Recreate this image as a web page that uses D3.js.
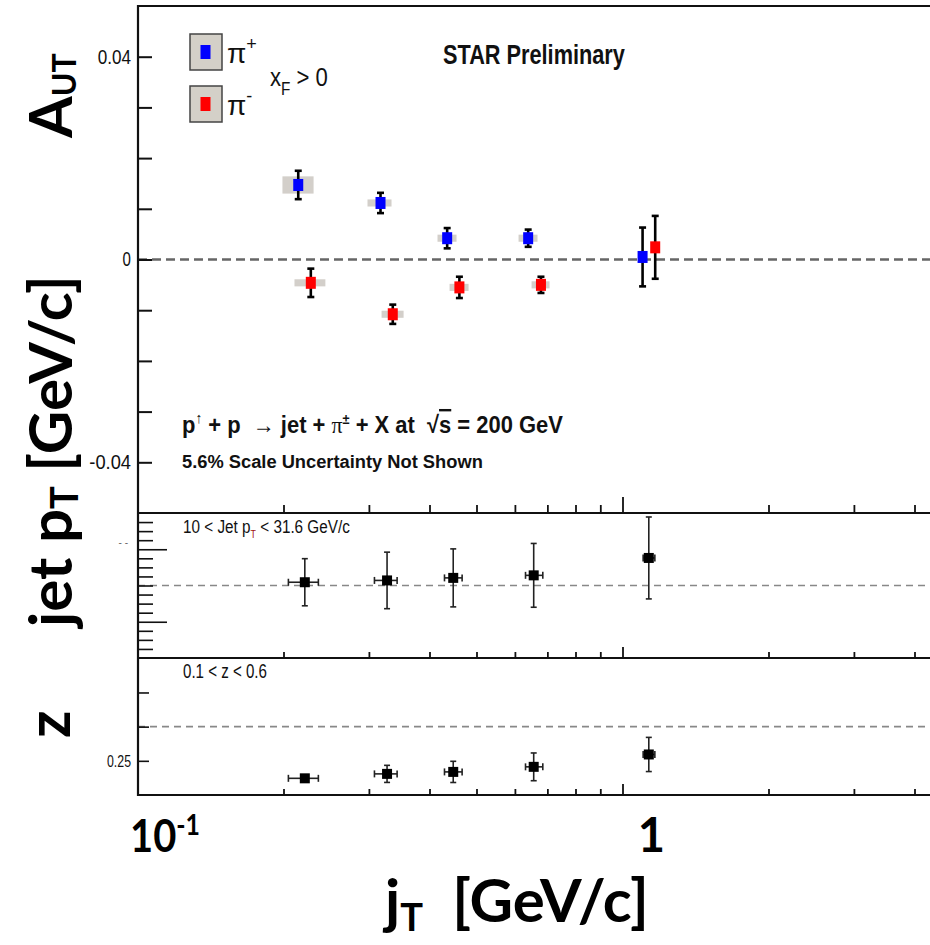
<!DOCTYPE html>
<html><head><meta charset="utf-8">
<script src="https://cdn.jsdelivr.net/npm/d3@7"></script>
<style>body{margin:0;background:#fff;} svg{display:block}</style>
</head><body><svg id="c" width="930" height="945"></svg>
<script>
// ---------------- DATA ----------------
// A_UT for pi+ (blue)
const jtPiPlus   = [0.2145, 0.317, 0.435, 0.639, 1.10];
const autPiPlus  = [0.0147, 0.01115, 0.0042, 0.0042, 0.0005];
const errPiPlus  = [0.0028, 0.0020, 0.0020, 0.0017, 0.0058];
const sysYPiPlus = [0.0017, 0.0007, 0.0007, 0.0007, 0];
const sysXLoPiPlus = [0.199, 0.298, 0.4155, 0.6105, 1.10];
const sysXHiPiPlus = [0.2307, 0.334, 0.4548, 0.668, 1.10];
// A_UT for pi- (red)
const jtPiMinus   = [0.2277, 0.336, 0.461, 0.679, 1.168];
const autPiMinus  = [-0.0046, -0.0108, -0.0055, -0.0050, 0.0024];
const errPiMinus  = [0.0028, 0.0019, 0.0021, 0.0016, 0.0062];
const sysYPiMinus = [0.0007, 0.0007, 0.0007, 0.0007, 0];
const sysXLoPiMinus = [0.2107, 0.3186, 0.44, 0.6494, 1.168];
const sysXHiPiMinus = [0.244, 0.3537, 0.4815, 0.7073, 1.168];
// mean jT bins (black points)
const jtMean = [0.2213, 0.327, 0.4477, 0.656, 1.133];
const jtLo   = [0.2047, 0.308, 0.4295, 0.631, 1.103];
const jtHi   = [0.236, 0.343, 0.467, 0.685, 1.166];
// mean jet pT
const jetPt    = [16.09, 16.14, 16.21, 16.28, 16.76];
const jetPtErr = [0.65, 0.78, 0.80, 0.88, 1.13];
// mean z
const zMean = [0.2244, 0.2309, 0.2338, 0.2412, 0.2593];
const zErr  = [0.003, 0.0125, 0.0155, 0.0203, 0.025];
// ticks
const xTicks = [0.2,0.3,0.4,0.5,0.6,0.7,0.8,0.9,2,3,4];
const autTicks = [-0.04,-0.03,-0.02,-0.01,0,0.01,0.02,0.03,0.04];
const autLabels = [[0.04,"0.04"],[0,"0"],[-0.04,"-0.04"]];
const ptMinorTicks = [14.25,14.5,14.75,15.25,15.5,15.75,16,16.25,16.5,16.75,17.25,17.5,17.75];
const ptMajorTicks = [15,17];
const zTicks = [0.25,0.3,0.35];
const zLabels = [[0.25,"0.25"]];

// ---------------- LAYOUT ----------------
const svg = d3.select('#c');
const NARROW = "'Liberation Sans Narrow','Arial Narrow','Liberation Sans',Arial,sans-serif";
const BIG = "Lato,'Open Sans',sans-serif";
const L = 138, R = 945;
const xDomain = [0.1, 4.5];
const pxPerDecade = 485, x0 = 137.5;
const x = d3.scaleLog().domain(xDomain).range([x0, x0 + pxPerDecade*Math.log10(xDomain[1]/xDomain[0])]);
const yA = d3.scaleLinear().domain([-0.05,0.05]).range([513,6]);
const yP = d3.scaleLinear().domain([14,18]).range([658,513]);
const yZ = d3.scaleLinear().domain([0.2,0.4]).range([795,658.3]);

function hline(y, w, col){ svg.append('line').attr('x1',L-1).attr('x2',R).attr('y1',y).attr('y2',y).attr('stroke',col||'#111').attr('stroke-width',w); }
function vline(xx, y1, y2, w){ svg.append('line').attr('x1',xx).attr('x2',xx).attr('y1',y1).attr('y2',y2).attr('stroke','#111').attr('stroke-width',w); }

// dashed reference lines
function dashed(y, w, col, dash){
  svg.append('line').attr('x1',L).attr('x2',R).attr('y1',y).attr('y2',y)
    .attr('stroke',col).attr('stroke-width',w).attr('stroke-dasharray',dash);
}
dashed(yA(0), 2.6, '#666', '9,5');
dashed(yP(16), 1.6, '#888', '7,5');
dashed(yZ(0.3), 1.6, '#888', '7,5');

// frames
hline(yA.range()[1], 2.2);
hline(513, 2.2);
hline(658, 2.2);
hline(795, 2.2);
vline(L, 5, 796, 2.2);

// x ticks
function xAxis(y, len, majorLen){
  const g = svg.append('g').attr('transform',`translate(0,${y})`);
  g.call(d3.axisTop(x).tickValues(xTicks).tickSize(len).tickFormat(''));
  g.call(gg=>gg.select('.domain').remove());
  const g2 = svg.append('g').attr('transform',`translate(0,${y})`);
  g2.call(d3.axisTop(x).tickValues([1]).tickSize(majorLen).tickFormat(''));
  g2.call(gg=>gg.select('.domain').remove());
  svg.selectAll('.tick line').attr('stroke','#111').attr('stroke-width',1.8);
}
xAxis(513, 8, 16);
xAxis(658, 6, 11);
xAxis(795, 6, 11);

// y ticks
function yTicksAt(scale, vals, len, w){
  const g = svg.append('g').attr('transform',`translate(${L},0)`);
  g.call(d3.axisRight(scale).tickValues(vals).tickSize(len).tickFormat(''));
  g.call(gg=>gg.select('.domain').remove());
  g.selectAll('line').attr('stroke','#111').attr('stroke-width',w||1.8);
}
yTicksAt(yA, autTicks, 14, 2);
yTicksAt(yP, ptMinorTicks, 15, 1.6);
yTicksAt(yP, ptMajorTicks, 29, 1.6);
yTicksAt(yZ, zTicks, 11, 1.6);

// horizontal condensing helper: scale a text so its width equals len (anchor kept at its x)
function fit(t, len, anchorX, anchorEnd){
  const n = t.node();
  const w = n.getBBox().width;
  const k = w > 0 ? len / w : 1;
  t.attr('transform', `translate(${anchorX},0) scale(${k},1) translate(${-anchorX},0)`);
  return t;
}

// y tick labels (condensed)
svg.append('g').selectAll('text').data(autLabels).join('text')
  .attr('x',131).attr('y',d=>yA(d[0])+7).attr('text-anchor','end')
  .attr('font-family',NARROW).attr('font-size',21).attr('fill','#111').text(d=>d[1])
  .each(function(d){ fit(d3.select(this), d[1].length*8.4, 131); });
svg.append('g').selectAll('text').data(zLabels).join('text')
  .attr('x',131).attr('y',d=>yZ(d[0])+6).attr('text-anchor','end')
  .attr('font-family',NARROW).attr('font-size',17).attr('fill','#111').text(d=>d[1])
  .each(function(d){ fit(d3.select(this), 24, 131); });
svg.append('text').attr('x',128).attr('y',546).attr('text-anchor','end')
  .attr('font-family',NARROW).attr('font-size',10).attr('fill','#666').text('- -');

// ---------------- TOP PANEL MARKS ----------------
function sysBoxes(jt, val, lo, hi, sy){
  svg.append('g').selectAll('rect').data(jt.map((d,i)=>i).filter(i=>hi[i]>lo[i])).join('rect')
    .attr('x',i=>x(lo[i])).attr('width',i=>x(hi[i])-x(lo[i]))
    .attr('y',i=>yA(val[i]+sy[i])).attr('height',i=>yA(val[i]-sy[i])-yA(val[i]+sy[i]))
    .attr('fill','#d3cfca');
}
sysBoxes(jtPiPlus, autPiPlus, sysXLoPiPlus, sysXHiPiPlus, sysYPiPlus);
sysBoxes(jtPiMinus, autPiMinus, sysXLoPiMinus, sysXHiPiMinus, sysYPiMinus);

function errBars(jt, val, err, col){
  const g = svg.append('g').attr('stroke','#000').attr('stroke-width',2.6);
  jt.forEach((d,i)=>{
    const cx=x(d), t=yA(val[i]+err[i]), b=yA(val[i]-err[i]);
    g.append('line').attr('x1',cx).attr('x2',cx).attr('y1',t).attr('y2',b);
    g.append('line').attr('x1',cx-3.5).attr('x2',cx+3.5).attr('y1',t).attr('y2',t);
    g.append('line').attr('x1',cx-3.5).attr('x2',cx+3.5).attr('y1',b).attr('y2',b);
  });
  svg.append('g').selectAll('rect').data(jt).join('rect')
    .attr('x',d=>x(d)-5).attr('y',(d,i)=>yA(val[i])-6).attr('width',10).attr('height',12)
    .attr('fill',col);
}
errBars(jtPiPlus, autPiPlus, errPiPlus, '#0000ff');
errBars(jtPiMinus, autPiMinus, errPiMinus, '#ff0000');

// ---------------- LOWER PANELS ----------------
function blackPoints(yS, val, err){
  const g = svg.append('g').attr('stroke','#222').attr('stroke-width',1.6);
  jtMean.forEach((d,i)=>{
    const cx=x(d), cy=yS(val[i]), t=yS(val[i]+err[i]), b=yS(val[i]-err[i]);
    const l=x(jtLo[i]), r=x(jtHi[i]);
    g.append('line').attr('x1',cx).attr('x2',cx).attr('y1',t).attr('y2',b);
    g.append('line').attr('x1',cx-3).attr('x2',cx+3).attr('y1',t).attr('y2',t);
    g.append('line').attr('x1',cx-3).attr('x2',cx+3).attr('y1',b).attr('y2',b);
    g.append('line').attr('x1',l).attr('x2',r).attr('y1',cy).attr('y2',cy);
    g.append('line').attr('x1',l).attr('x2',l).attr('y1',cy-3.5).attr('y2',cy+3.5);
    g.append('line').attr('x1',r).attr('x2',r).attr('y1',cy-3.5).attr('y2',cy+3.5);
  });
  svg.append('g').selectAll('rect').data(jtMean).join('rect')
    .attr('x',d=>x(d)-5).attr('y',(d,i)=>yS(val[i])-5).attr('width',10).attr('height',10)
    .attr('fill','#000');
}
blackPoints(yP, jetPt, jetPtErr);
blackPoints(yZ, zMean, zErr);

// ---------------- TEXTS ----------------
// legend
const legend = [["+","#0000ff",11],["-","#ff0000",11]];
legend.forEach((d,i)=>{
  const top = 34 + i*52;
  svg.append('rect').attr('x',190).attr('y',top).attr('width',32).attr('height',36)
    .attr('fill','#d4d0c8').attr('stroke','#444').attr('stroke-width',1.5);
  svg.append('rect').attr('x',206-d[2]/2).attr('y',top+11).attr('width',d[2]-1).attr('height',14).attr('fill',d[1]);
  const t = svg.append('text').attr('x',227).attr('y',top+29).attr('font-family',"'Liberation Sans',sans-serif").attr('font-size',28).attr('fill','#111');
  t.append('tspan').text('π');
  t.append('tspan').attr('dy',-13).attr('font-size',18).text(d[0]);
});
{
  const t = svg.append('text').attr('x',270).attr('y',86).attr('font-family',NARROW).attr('font-size',26).attr('fill','#111');
  t.append('tspan').text('x');
  t.append('tspan').attr('dy',9).attr('font-size',18).text('F');
  t.append('tspan').attr('dy',-9).text(' > 0');
  fit(t, 58, 270);
}
fit(svg.append('text').attr('x',443).attr('y',64).attr('font-family',NARROW).attr('font-weight','bold')
  .attr('font-size',27).attr('fill','#111').text('STAR Preliminary'), 182, 443);
{
  const t = svg.append('text').attr('x',182).attr('y',433).attr('font-family',NARROW).attr('font-weight','bold')
    .attr('font-size',24).attr('fill','#111');
  t.append('tspan').text('p');
  t.append('tspan').attr('dy',-10).attr('font-size',15).attr('font-weight','normal').text('↑');
  t.append('tspan').attr('dy',10).text(' + p\u00a0 → jet + ');
  t.append('tspan').attr('font-family','serif').attr('font-weight','normal').text('π');
  t.append('tspan').attr('dy',-9).attr('font-size',14).text('±');
  t.append('tspan').attr('dy',9).text(' + X at\u00a0 √');
  t.append('tspan').attr('text-decoration','overline').text('s');
  t.append('tspan').text(' = 200 GeV');
  fit(t, 381, 182);
}
fit(svg.append('text').attr('x',182).attr('y',468).attr('font-family',NARROW).attr('font-weight','bold')
  .attr('font-size',19).attr('fill','#111').text('5.6% Scale Uncertainty Not Shown'), 301, 182);
{
  const t = svg.append('text').attr('x',183).attr('y',533).attr('font-family',NARROW)
    .attr('font-size',19).attr('fill','#111');
  t.append('tspan').text('10 < Jet p');
  t.append('tspan').attr('dy',5).attr('font-size',11).attr('fill','#a01010').text('T');
  t.append('tspan').attr('dy',-5).text(' < 31.6 GeV/c');
  fit(t, 167, 183);
}
fit(svg.append('text').attr('x',183).attr('y',678).attr('font-family',NARROW)
  .attr('font-size',20).attr('fill','#111').text('0.1 < z < 0.6'), 84, 183);

// big axis titles
function vtext(xb, ystart, parts, size){
  const t = svg.append('text').attr('transform',`translate(${xb},${ystart}) rotate(-90)`)
    .attr('font-family',BIG).attr('font-weight','bold').attr('font-size',size).attr('fill','#000');
  parts.forEach(p=>{ const s=t.append('tspan').text(p[0]); if(p[1]) s.attr('font-size',p[1]); if(p[2]!==undefined) s.attr('dy',p[2]); });
}
vtext(72, 138, [["A"],["UT",32,4]], 60);
vtext(72, 627, [["jet p"],["T",38,6],["\u00a0[GeV/c]",null,-6]], 60);
vtext(70, 738, [["z"]], 60);

// x labels
{
  const t = svg.append('text').attr('x',130).attr('y',852).attr('font-family',BIG).attr('font-weight','bold').attr('font-size',45).attr('fill','#000');
  t.append('tspan').text('10');
  t.append('tspan').attr('dy',-17).attr('font-size',28).text('-1');
  fit(t, 70, 130);
}
svg.append('text').attr('x',x(1)+29).attr('y',852).attr('text-anchor','middle').attr('font-family',BIG).attr('font-weight','bold').attr('font-size',47).attr('fill','#000').text('1');
{
  const t = svg.append('text').attr('x',385).attr('y',922).attr('font-family',BIG).attr('font-weight','bold').attr('font-size',60).attr('fill','#000');
  t.append('tspan').text('j');
  t.append('tspan').attr('dy',9).attr('font-size',38).text('T');
  t.append('tspan').attr('dy',-9).text('\u00a0\u00a0[GeV/c]');
}
</script></body></html>
